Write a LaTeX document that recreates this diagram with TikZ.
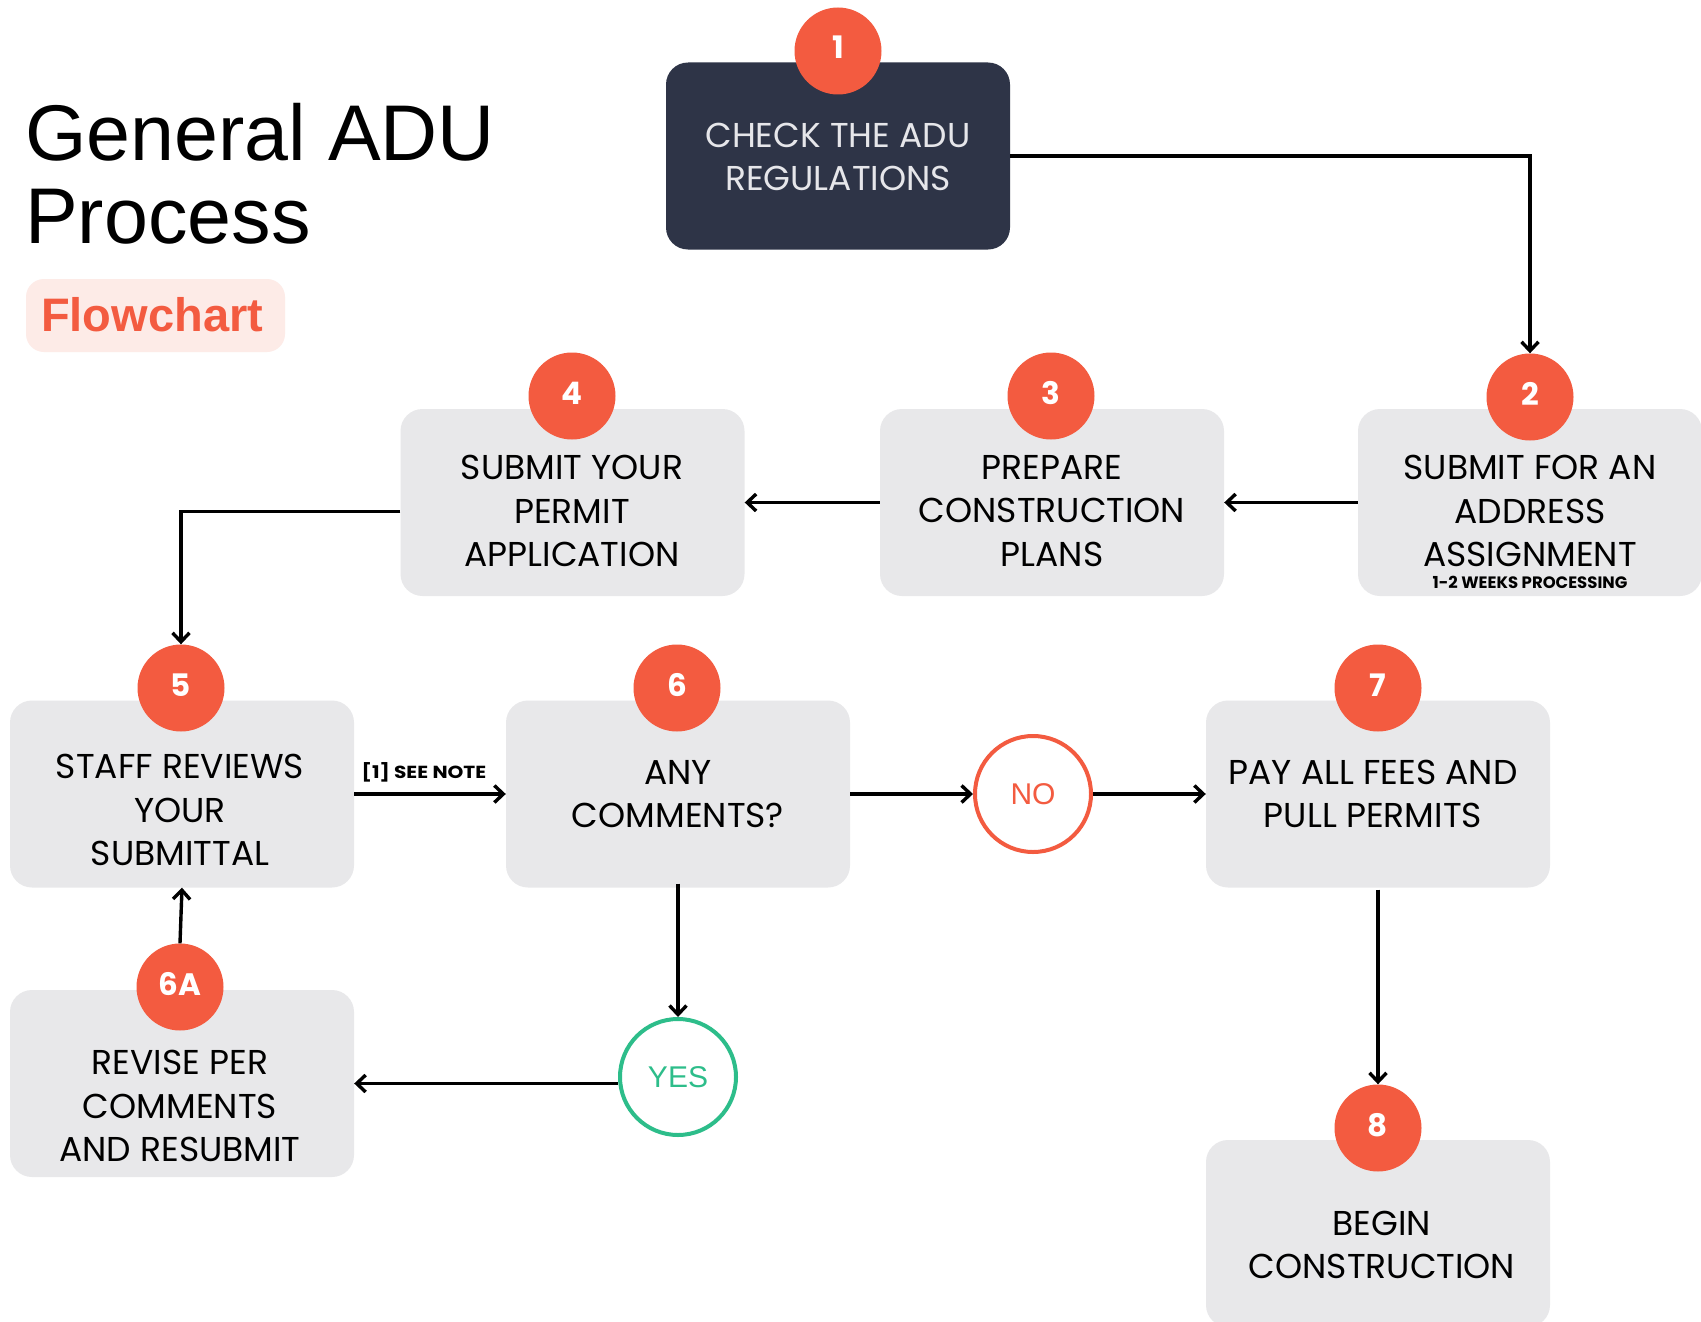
\documentclass[tikz,border=0pt]{standalone}
\usepackage{fontspec}
\setmainfont{Liberation Sans}
\newfontfamily\boxfont{Poppins}
\newfontfamily\widefont[FakeStretch=1.15]{Poppins}
\usetikzlibrary{arrows.meta}
\definecolor{badgeC}{HTML}{F35B40}
\definecolor{darkC}{HTML}{2E3447}
\definecolor{grayC}{HTML}{E8E8EA}
\definecolor{lightT}{HTML}{E6E6EA}
\definecolor{greenC}{HTML}{2DBD8A}
\definecolor{pillC}{HTML}{FDEBE7}
\begin{document}
\begin{tikzpicture}[x=1pt,y=-1pt,
  box/.style={rectangle, rounded corners=22pt, fill=grayC, minimum width=344pt, minimum height=187pt, inner sep=0pt},
  badge/.style={circle, fill=badgeC, minimum size=87pt, inner sep=0pt, text=white, text height=16pt, text depth=0pt, font=\boxfont\bfseries\fontsize{31}{31}\selectfont},
  boxtext/.style={align=center, inner sep=0pt, font=\boxfont\fontsize{34.5}{43.5}\selectfont},
  smalltext/.style={inner sep=0pt, font=\boxfont\bfseries\fontsize{16.5}{16.5}\selectfont},
  notetext/.style={inner sep=0pt, font=\widefont\bfseries\fontsize{17.5}{17.5}\selectfont},
  answer/.style={circle, minimum size=116pt, inner sep=0pt, line width=4pt, fill=white, font=\fontsize{30}{30}\selectfont},
  arr/.style={line width=3.4pt, -{Straight Barb[length=9pt,width=17pt]}}]
\useasboundingbox (0,0) rectangle (1701,1322);
\clip (0,0) rectangle (1701,1322);
\fill[white] (0,0) rectangle (1701,1322);

% title
\node[anchor=base west, inner sep=0pt, font=\fontsize{79}{79}\selectfont] (title1) at (25,160) {General ADU};
\node[anchor=base west, inner sep=0pt, font=\fontsize{79}{79}\selectfont] (title2) at (25,243) {Process};
\node[rectangle, rounded corners=18pt, fill=pillC, minimum width=259pt, minimum height=73pt, inner sep=0pt] (pill) at (155.5,315.5) {};
\node[anchor=base west, inner sep=0pt, text=badgeC, font=\bfseries\fontsize{47}{47}\selectfont] (pilltext) at (41,331) {Flowchart};

% boxes
\node[box, fill=darkC] (b1) at (838,156) {};
\node[box] (b2) at (1530,502.5) {};
\node[box] (b3) at (1052,502.5) {};
\node[box] (b4) at (572.5,502.5) {};
\node[box] (b5) at (182,794) {};
\node[box] (b6) at (678,794) {};
\node[box] (b7) at (1378,794) {};
\node[box] (b6a) at (182,1083.5) {};
\node[box] (b8) at (1378,1233.5) {};

% texts
\node[boxtext, text=lightT] (t1) at (838,157) {CHECK THE ADU\\REGULATIONS};
\node[boxtext] (t2) at (1530,511) {SUBMIT FOR AN\\ADDRESS\\ASSIGNMENT};
\node[smalltext] (s2) at (1530,582) {1-2 WEEKS PROCESSING};
\node[boxtext] (t3) at (1052,511) {PREPARE\\CONSTRUCTION\\PLANS};
\node[boxtext] (t4) at (572,511) {SUBMIT YOUR\\PERMIT\\APPLICATION};
\node[boxtext] (t5) at (180,810) {STAFF REVIEWS\\YOUR\\SUBMITTAL};
\node[boxtext] (t6) at (678,794) {ANY\\COMMENTS?};
\node[boxtext] (t7) at (1373,794) {PAY ALL FEES AND\\PULL PERMITS};
\node[boxtext] (t6a) at (180,1106) {REVISE PER\\COMMENTS\\AND RESUBMIT};
\node[boxtext] (t8) at (1382,1245) {BEGIN\\CONSTRUCTION};

% badges
\node[badge] (c1) at (838,51) {1};
\node[badge] (c2) at (1530,397) {2};
\node[badge] (c3) at (1051,396) {3};
\node[badge] (c4) at (572,396) {4};
\node[badge] (c5) at (181,688) {5};
\node[badge] (c6) at (677,688) {6};
\node[badge] (c7) at (1378,688) {7};
\node[badge] (c6a) at (180,987) {6A};
\node[badge] (c8) at (1378,1128) {8};

% answers
\node[answer, draw=badgeC, text=badgeC] (no) at (1033,794) {NO};
\node[answer, draw=greenC, text=greenC] (yes) at (678,1077) {YES};

% connectors
\draw[arr] (b1.east) -| (c2.north);
\draw[arr] (b2.west) -- (b3.east);
\draw[arr] (b3.west) -- (b4.east);
\draw[arr] ([yshift=-9pt]b4.west) -| (c5.north);
\draw[arr] (b5.east) -- (b6.west);
\node[notetext] (note) at (424,772) {[1] SEE NOTE};
\draw[arr] (b6.east) -- (no.west);
\draw[arr] (no.east) -- (b7.west);
\draw[arr] ([yshift=4pt]b6.south) -- (yes.north);
\draw[arr] (yes.west |- b6a.east) -- (b6a.east);
\draw[arr] (c6a.north) -- (b5.south);
\draw[arr] ([yshift=-2pt]b7.south) -- (c8.north);
\end{tikzpicture}
\end{document}
